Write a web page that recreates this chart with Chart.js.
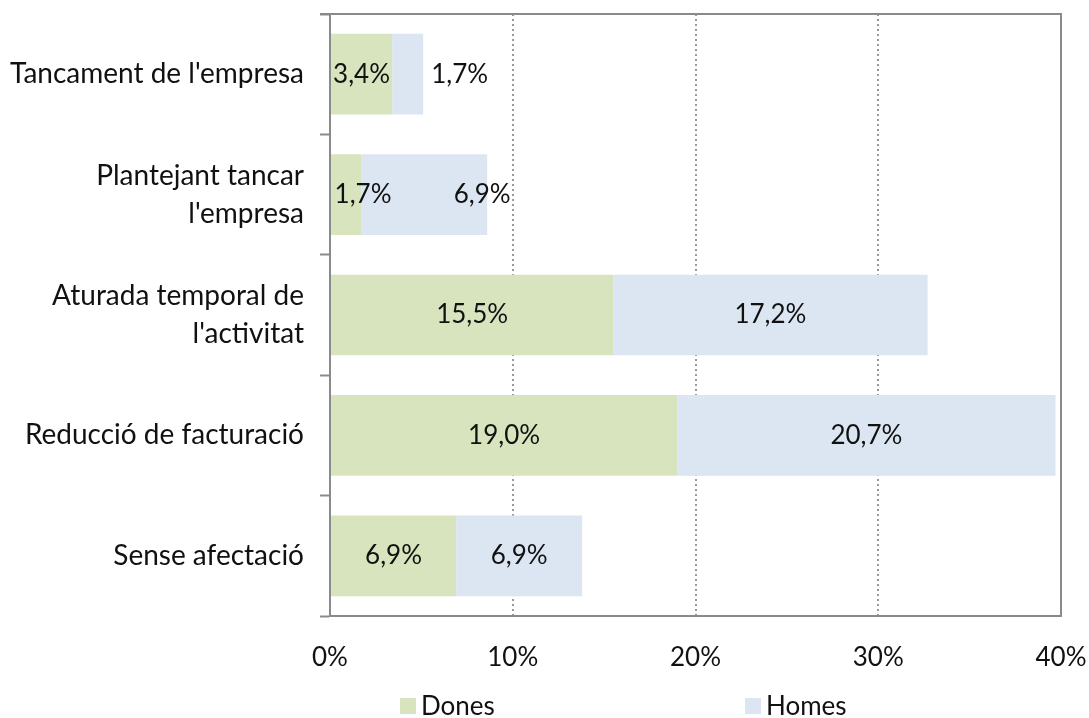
<!DOCTYPE html>
<html>
<head>
<meta charset="utf-8">
<script src="https://cdn.jsdelivr.net/npm/chart.js@4.4.1/dist/chart.umd.min.js"></script>
<style>
    html, body { margin: 0; padding: 0; background: #fff; }
    #wrap { width: 1089px; height: 718px; position: relative; }
</style>
</head>
<body>
<div id="wrap"><canvas id="chart"></canvas></div>
<script>
// --- data ---
var categories = [
    ["Tancament de l'empresa"],
    ["Plantejant tancar", "l'empresa"],
    ["Aturada temporal de", "l'activitat"],
    ["Reducció de facturació"],
    ["Sense afectació"]
];
var dones = [3.4, 1.7, 15.5, 19.0, 6.9];
var homes = [1.7, 6.9, 17.2, 20.7, 6.9];
var xTickLabels = ['0%', '10%', '20%', '30%', '40%'];

var FONT = 'Lato';
var GREY = '#8a8a8a';
var INK = '#111';

// labels that Excel had nudged sideways (px, keyed dataset:index)
var labelNudge = { '1:0': 52, '0:1': 17, '1:1': 58 };

var barLabels = {
    id: 'barLabels',
    afterDatasetsDraw: function (chart) {
        var ctx = chart.ctx;
        ctx.save();
        ctx.font = '26px ' + FONT;
        ctx.fillStyle = INK;
        ctx.textAlign = 'center';
        ctx.textBaseline = 'middle';
        chart.data.datasets.forEach(function (ds, d) {
            chart.getDatasetMeta(d).data.forEach(function (bar, i) {
                var txt = ds.data[i].toFixed(1).replace('.', ',') + '%';
                var cx = (bar.x + bar.base) / 2 + (labelNudge[d + ':' + i] || 0);
                ctx.fillText(txt, cx, bar.y);
            });
        });
        ctx.restore();
    }
};

// top and right edges of the plot area
var frame = {
    id: 'frame',
    afterDraw: function (chart) {
        var a = chart.chartArea, ctx = chart.ctx;
        ctx.save();
        ctx.strokeStyle = GREY;
        ctx.lineWidth = 2;
        ctx.beginPath();
        ctx.moveTo(a.left - 10, a.top);
        ctx.lineTo(a.right, a.top);
        ctx.lineTo(a.right, a.bottom);
        ctx.stroke();
        ctx.restore();
    }
};

// legend spaced like the original
var legendBottom = {
    id: 'legendBottom',
    afterDraw: function (chart) {
        var ctx = chart.ctx;
        var xs = [400, 745];
        ctx.save();
        ctx.font = '26px ' + FONT;
        ctx.textBaseline = 'middle';
        ctx.textAlign = 'left';
        chart.data.datasets.forEach(function (ds, d) {
            ctx.fillStyle = ds.backgroundColor;
            ctx.fillRect(xs[d], 698, 16, 16);
            ctx.fillStyle = INK;
            ctx.fillText(ds.label, xs[d] + 21, 707);
        });
        ctx.restore();
    }
};

new Chart(document.getElementById('chart'), {
    type: 'bar',
    data: {
        labels: categories,
        datasets: [
            { label: 'Dones', data: dones, backgroundColor: '#d7e4bd' },
            { label: 'Homes', data: homes, backgroundColor: '#dce6f2' }
        ]
    },
    options: {
        indexAxis: 'y',
        responsive: true,
        maintainAspectRatio: false,
        animation: false,
        layout: { padding: { top: 14, right: 28, bottom: 0, left: 0 } },
        datasets: { bar: { categoryPercentage: 1, barPercentage: 0.67 } },
        plugins: {
            legend: { display: false },
            tooltip: { enabled: false }
        },
        scales: {
            x: {
                stacked: true,
                min: 0,
                max: 40,
                ticks: {
                    stepSize: 10,
                    padding: 26,
                    color: INK,
                    font: { family: FONT, size: 26 },
                    callback: function (v, i) { return xTickLabels[i]; }
                },
                grid: {
                    drawTicks: false,
                    lineWidth: 2,
                    color: function (c) {
                        return (c.tick && (c.tick.value === 0 || c.tick.value === 40)) ? 'rgba(0,0,0,0)' : '#999';
                    }
                },
                border: { color: GREY, width: 2, dash: [2, 3] },
                afterFit: function (s) {
                    s.height = 102;
                    s.paddingLeft = 0;
                    s.paddingRight = 0;
                }
            },
            y: {
                stacked: true,
                ticks: {
                    padding: 16,
                    color: INK,
                    font: { family: FONT, size: 28, lineHeight: 1.35 }
                },
                grid: {
                    drawOnChartArea: false,
                    tickLength: 10,
                    tickWidth: 2,
                    tickColor: GREY
                },
                border: { color: GREY, width: 2 },
                afterFit: function (s) {
                    s.width = 330;
                    s.paddingTop = 0;
                    s.paddingBottom = 0;
                }
            }
        }
    },
    plugins: [barLabels, frame, legendBottom]
});
</script>
</body>
</html>
